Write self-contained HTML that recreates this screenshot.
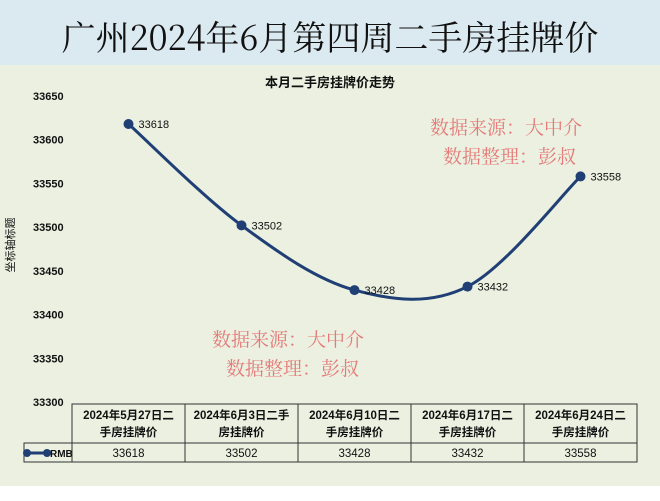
<!DOCTYPE html>
<html><head><meta charset="utf-8"><style>
body{margin:0;width:660px;height:496px;overflow:hidden;background:#fff;font-family:"Liberation Sans","Noto Sans CJK SC",sans-serif}
</style></head><body>
<svg width="660" height="496" xmlns="http://www.w3.org/2000/svg">
<rect x="0" y="0" width="660" height="65" fill="#dbeaf1"/>
<rect x="0" y="65" width="660" height="421" fill="#ebf0e1"/>
<text x="330" y="50" text-anchor="middle" font-family="Noto Serif CJK SC, serif" font-size="34" fill="#111">广州2024年6月第四周二手房挂牌价</text>
<text x="330" y="87" text-anchor="middle" font-size="13" font-weight="bold" fill="#111">本月二手房挂牌价走势</text>
<text x="14" y="245" transform="rotate(-90 14 245)" text-anchor="middle" font-size="11" fill="#111">坐标轴标题</text>
<g id="yticks"></g>
<path id="line" fill="none" stroke="#1f3f75" stroke-width="3"/>
<g id="pts"></g>
<g font-family="Noto Serif CJK SC, serif" font-size="19" fill="#e47b78">
<text x="430" y="134">数据来源：大中介</text>
<text x="443" y="163">数据整理：彭叔</text>
<text x="212" y="346">数据来源：大中介</text>
<text x="226" y="375">数据整理：彭叔</text>
</g>
<g id="table"></g>
</svg>
<script>
const categories=["2024年5月27日二|手房挂牌价","2024年6月3日二手|房挂牌价","2024年6月10日二|手房挂牌价","2024年6月17日二|手房挂牌价","2024年6月24日二|手房挂牌价"];
const values=[33618,33502,33428,33432,33558];
const yTicks=[33300,33350,33400,33450,33500,33550,33600,33650];
const NS="http://www.w3.org/2000/svg";
const yMin=33300,yMax=33650,yTop=96,yBot=402,tL=72,tR=637;
const colW=(tR-tL)/categories.length;
const y=v=>yBot-(v-yMin)/(yMax-yMin)*(yBot-yTop);
const x=i=>tL+colW*(i+0.5);
function mk(t,a,p){const e=document.createElementNS(NS,t);for(const k in a)e.setAttribute(k,a[k]);p.appendChild(e);return e;}
const yt=document.getElementById('yticks');
yTicks.forEach(v=>{const t=mk('text',{x:33,y:y(v)+4,'font-size':11,'font-weight':'bold',fill:'#111'},yt);t.textContent=v;

});
const P=values.map((v,i)=>[x(i),y(v)]);
let d=`M${P[0][0]},${P[0][1]}`;
for(let i=0;i<P.length-1;i++){const p0=P[Math.max(0,i-1)],p1=P[i],p2=P[i+1],p3=P[Math.min(P.length-1,i+2)];const k=1/6;
d+=` C${p1[0]+(p2[0]-p0[0])*k},${p1[1]+(p2[1]-p0[1])*k} ${p2[0]-(p3[0]-p1[0])*k},${p2[1]-(p3[1]-p1[1])*k} ${p2[0]},${p2[1]}`;}
document.getElementById('line').setAttribute('d',d);
const pg=document.getElementById('pts');
P.forEach((p,i)=>{const c=mk('circle',{cx:p[0],cy:p[1],r:5,fill:'#1f3f75'},pg);


const t=mk('text',{x:p[0]+10,y:p[1]+4,'font-size':11,fill:'#111'},pg);t.textContent=values[i];

});
const tb=document.getElementById('table');
const hT=404,hB=443,dB=462;
mk('rect',{x:tL,y:hT,width:tR-tL,height:dB-hT,fill:'none',stroke:'#333'},tb);
mk('rect',{x:24,y:hB,width:tR-24,height:dB-hB,fill:'none',stroke:'#333'},tb);
for(let i=1;i<categories.length;i++)mk('line',{x1:tL+colW*i,y1:hT,x2:tL+colW*i,y2:dB,stroke:'#333'},tb);
mk('line',{x1:tL,y1:hT,x2:tL,y2:dB,stroke:'#333'},tb);
mk('line',{x1:26,y1:453,x2:48,y2:453,stroke:'#1f3f75','stroke-width':3},tb);
mk('circle',{cx:27,cy:453,r:4,fill:'#1f3f75'},tb);mk('circle',{cx:47,cy:453,r:4,fill:'#1f3f75'},tb);
const lt=mk('text',{x:50,y:457,'font-size':10,'font-weight':'bold',fill:'#111'},tb);lt.textContent='RMB';


categories.forEach((c,i)=>{const parts=c.split('|');
parts.forEach((s,j)=>{const t=mk('text',{x:x(i),y:hT+15+j*17,'text-anchor':'middle','font-size':11.5,'font-weight':'bold',fill:'#111'},tb);t.textContent=s;

});
const v=mk('text',{x:x(i),y:457,'text-anchor':'middle','font-size':11.5,fill:'#111'},tb);v.textContent=values[i];

});
</script>
</body></html>
